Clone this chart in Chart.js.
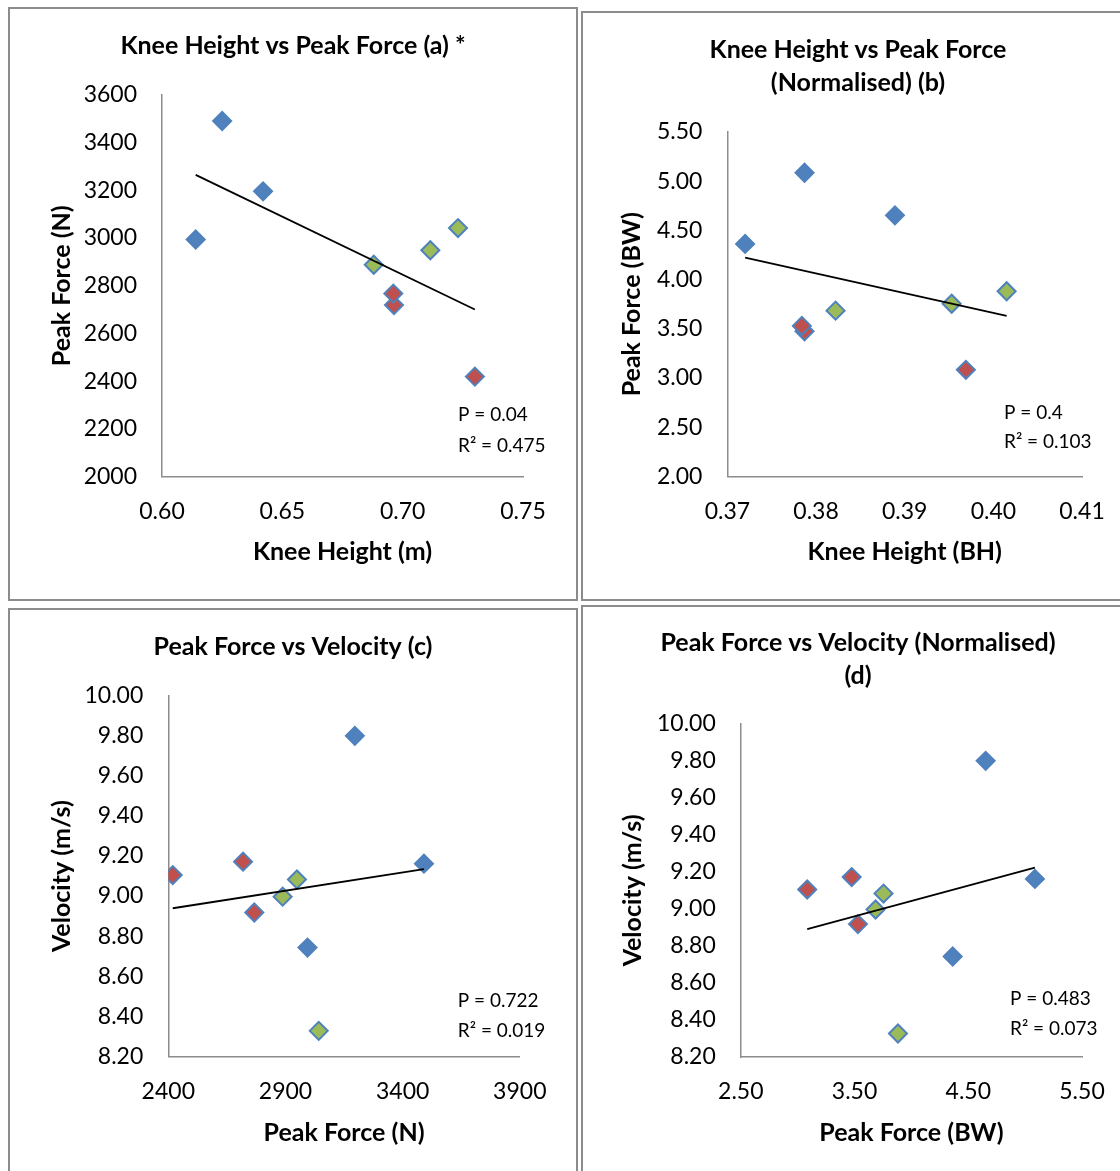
<!DOCTYPE html>
<html>
<head>
<meta charset="utf-8">
<script src="https://cdn.jsdelivr.net/npm/chart.js@4.4.1/dist/chart.umd.min.js"></script>
<style>
  body { margin: 0; background: #fff; width: 1120px; height: 1171px; overflow: hidden; position: relative; }
  .box { position: absolute; border: 2px solid #8c8c8c; box-sizing: border-box; }
  canvas { position: absolute; }
</style>
</head>
<body>
<div class="box" style="left:8px;top:7px;width:570px;height:594px"></div>
<div class="box" style="left:581px;top:11px;width:560px;height:590px"></div>
<div class="box" style="left:8px;top:608px;width:570px;height:600px"></div>
<div class="box" style="left:581px;top:605px;width:560px;height:600px"></div>

<canvas id="chartA" width="566" height="590" style="left:10px;top:9px"></canvas>
<canvas id="chartB" width="550" height="586" style="left:583px;top:13px"></canvas>
<canvas id="chartC" width="566" height="562" style="left:10px;top:609px"></canvas>
<canvas id="chartD" width="550" height="564" style="left:583px;top:607px"></canvas>

<script>
// nine athletes, same order in every array (3 per group)
const group = [0, 0, 0, 1, 1, 1, 2, 2, 2];
const groupColours = ['#4F81BD', '#C0504D', '#9BBB59'];

const kneeHeightM  = [0.625, 0.642, 0.614, 0.730, 0.6964, 0.6961, 0.688, 0.7115, 0.723];
const kneeHeightBH = [0.3787, 0.3889, 0.3720, 0.3969, 0.3787, 0.3784, 0.3822, 0.3953, 0.4015];
const peakForceN   = [3491, 3196, 2994, 2419, 2719, 2767, 2888, 2949, 3042];
const peakForceBW  = [5.086, 4.653, 4.363, 3.084, 3.475, 3.530, 3.685, 3.755, 3.882];
const velocity     = [9.162, 9.800, 8.743, 9.105, 9.172, 8.918, 8.997, 9.083, 8.327];

// tick labels
const ticksKneeM   = ['0.60', '0.65', '0.70', '0.75'];
const ticksForceN  = ['2000', '2200', '2400', '2600', '2800', '3000', '3200', '3400', '3600'];
const ticksKneeBH  = ['0.37', '0.38', '0.39', '0.40', '0.41'];
const ticksForceBW = ['2.00', '2.50', '3.00', '3.50', '4.00', '4.50', '5.00', '5.50'];
const ticksForceNx = ['2400', '2900', '3400', '3900'];
const ticksVel     = ['8.20', '8.40', '8.60', '8.80', '9.00', '9.20', '9.40', '9.60', '9.80', '10.00'];
const ticksForceBWx = ['2.50', '3.50', '4.50', '5.50'];

Chart.defaults.font.family = 'Lato, sans-serif';
Chart.defaults.color = '#000';

// linear trendline over all points, drawn between min and max x
function trend(xs, ys) {
  const n = xs.length;
  const mx = xs.reduce((a, b) => a + b, 0) / n;
  const my = ys.reduce((a, b) => a + b, 0) / n;
  let sxy = 0, sxx = 0;
  for (let i = 0; i < n; i++) {
    sxy += (xs[i] - mx) * (ys[i] - my);
    sxx += (xs[i] - mx) * (xs[i] - mx);
  }
  const b = sxy / sxx;
  const x0 = Math.min(...xs), x1 = Math.max(...xs);
  return [{ x: x0, y: my + b * (x0 - mx) }, { x: x1, y: my + b * (x1 - mx) }];
}

const statsPlugin = {
  id: 'stats',
  afterDatasetsDraw(chart, args, opts) {
    const a = chart.chartArea;
    const ctx = chart.ctx;
    ctx.save();
    ctx.font = '19px Lato, sans-serif';
    ctx.fillStyle = '#000';
    ctx.textAlign = 'left';
    ctx.textBaseline = 'middle';
    opts.lines.forEach((t, i) => ctx.fillText(t, a.right + opts.dx, a.bottom + opts.dy[i]));
    ctx.restore();
  }
};

function axis(labels, title, o) {
  return {
    type: 'linear',
    min: Number(labels[0]),
    max: Number(labels[labels.length - 1]),
    afterBuildTicks: s => { s.ticks = labels.map(l => ({ value: Number(l) })); },
    afterFit: s => { if (o.width) s.width = o.width; if (o.height) s.height = o.height; },
    grid: { display: false, drawTicks: false },
    border: { display: true, color: '#8c8c8c', width: 1.5 },
    ticks: { padding: o.tickPad, font: { size: 23 }, callback: (v, i) => labels[i], maxRotation: 0, autoSkip: false },
    title: { display: true, text: title, font: { size: 25, weight: 'bold' }, padding: o.titlePad }
  };
}

function makeChart(id, xs, ys, c) {
  const sets = [0, 1, 2].map(g => ({
    type: 'scatter',
    data: xs.map((x, i) => ({ x: x, y: ys[i] })).filter((p, i) => group[i] === g),
    backgroundColor: groupColours[g],
    borderColor: '#4F81BD',
    borderWidth: 2,
    pointStyle: 'rectRot',
    pointRadius: 9,
    order: 2
  }));
  sets.push({
    type: 'line',
    data: trend(xs, ys),
    borderColor: '#000',
    borderWidth: 1.8,
    pointRadius: 0,
    fill: false,
    order: 1
  });
  new Chart(document.getElementById(id), {
    type: 'scatter',
    data: { datasets: sets },
    plugins: [statsPlugin],
    options: {
      responsive: false,
      animation: false,
      layout: { padding: 0 },
      plugins: {
        legend: { display: false },
        tooltip: { enabled: false },
        title: {
          display: true, text: c.title, color: '#000',
          font: { size: 25, weight: 'bold', lineHeight: 1.32 },
          padding: { top: c.titleTop, bottom: c.titleBottom }
        },
        stats: c.stats
      },
      scales: {
        x: axis(c.xTicks, c.xTitle, { height: c.xHeight, tickPad: c.xTickPad, titlePad: { bottom: c.xTitlePad } }),
        y: axis(c.yTicks, c.yTitle, { width: c.yWidth, tickPad: 25, titlePad: { top: c.yTitlePad } }),
        // empty right-hand spacer so the title stays centred on the whole panel
        spacer: {
          type: 'linear', position: 'right', display: true,
          grid: { display: false, drawTicks: false },
          border: { display: false },
          ticks: { display: false },
          afterFit: s => { s.width = c.right; }
        }
      }
    }
  });
}

makeChart('chartA', kneeHeightM, peakForceN, {
  title: 'Knee Height vs Peak Force (a) *', xTitle: 'Knee Height (m)', yTitle: 'Peak Force (N)',
  xTicks: ticksKneeM, yTicks: ticksForceN,
  right: 53, yWidth: 152, xHeight: 122.5, titleTop: 20.5, titleBottom: 32.5,
  yTitlePad: 37, xTitlePad: 32, xTickPad: 21.4,
  stats: { lines: ['P = 0.04', 'R² = 0.475'], dx: -65, dy: [-61.5, -30.5] }
});

makeChart('chartB', kneeHeightBH, peakForceBW, {
  title: ['Knee Height vs Peak Force', '(Normalised) (b)'], xTitle: 'Knee Height (BH)', yTitle: 'Peak Force (BW)',
  xTicks: ticksKneeBH, yTicks: ticksForceBW,
  right: 51, yWidth: 144.4, xHeight: 122.5, titleTop: 20.5, titleBottom: 32.5,
  yTitlePad: 34, xTitlePad: 32, xTickPad: 21.7,
  stats: { lines: ['P = 0.4', 'R² = 0.103'], dx: -78, dy: [-63.5, -34.5] }
});

makeChart('chartC', peakForceN, velocity, {
  title: 'Peak Force vs Velocity (c)', xTitle: 'Peak Force (N)', yTitle: 'Velocity (m/s)',
  xTicks: ticksForceNx, yTicks: ticksVel,
  right: 56.2, yWidth: 158.3, xHeight: 114.7, titleTop: 21.5, titleBottom: 32.3,
  yTitlePad: 37, xTitlePad: 23, xTickPad: 21.9,
  stats: { lines: ['P = 0.722', 'R² = 0.019'], dx: -62, dy: [-55.7, -25.5] }
});

makeChart('chartD', peakForceBW, velocity, {
  title: ['Peak Force vs Velocity (Normalised)', '(d)'], xTitle: 'Peak Force (BW)', yTitle: 'Velocity (m/s)',
  xTicks: ticksForceBWx, yTicks: ticksVel,
  right: 51, yWidth: 157.8, xHeight: 114, titleTop: 19.5, titleBottom: 31.3,
  yTitlePad: 35, xTitlePad: 23, xTickPad: 21.2,
  stats: { lines: ['P = 0.483', 'R² = 0.073'], dx: -72, dy: [-58.2, -28] }
});
</script>
</body>
</html>
